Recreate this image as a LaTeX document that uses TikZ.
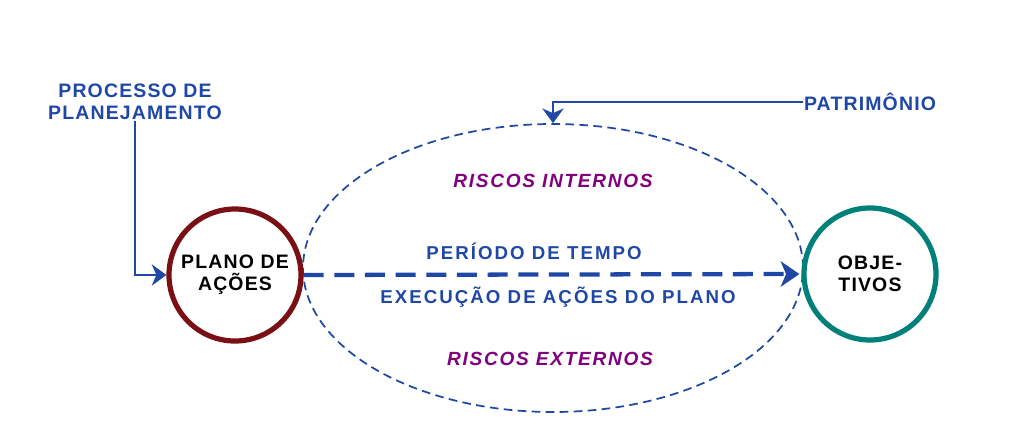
\documentclass[tikz,border=0pt]{standalone}
\usepackage{amsmath}
\usepackage{xcolor}
\usepackage{fontspec}
\setmainfont{Liberation Sans}
\newfontfamily\tagfont{Liberation Sans}[LetterSpace=6]
\newfontfamily\spanfont{Liberation Sans}[LetterSpace=11]
\newfontfamily\riskfont{Liberation Sans}[LetterSpace=9]
\usepackage{tikz}
\usetikzlibrary{arrows.meta,shapes.geometric,shadows}

\begin{document}
\begin{tikzpicture}[x=0.75pt,y=0.75pt,yscale=-1,xscale=1,
  tag/.style={inner sep=0.75pt, align=center, font=\tagfont\fontsize{14.6}{16.5}\selectfont\bfseries, color={rgb, 255:red, 31; green, 71; blue, 166}},
  span/.style={inner sep=0.75pt, anchor=base, font=\spanfont\fontsize{14}{16}\selectfont\bfseries, color={rgb, 255:red, 31; green, 71; blue, 166}},
  risk/.style={inner sep=0.75pt, anchor=base, font=\riskfont\fontsize{14.3}{16}\selectfont\bfseries\itshape, color={rgb, 255:red, 128; green, 0; blue, 128}},
  stage/.style={circle, minimum size=99pt, inner sep=0pt, line width=3.9pt, fill=white, align=center, font=\tagfont\fontsize{14.6}{16.5}\selectfont\bfseries, text=black, drop shadow={opacity=0.25, shadow xshift=1.5pt, shadow yshift=-1.5pt}},
  zone/.style={ellipse, minimum width=375pt, minimum height=216pt, inner sep=0pt, line width=1.3pt, dash pattern=on 6.5pt off 4pt, draw={rgb, 255:red, 31; green, 71; blue, 166}},
  feed/.style={line width=1.5pt, color={rgb, 255:red, 31; green, 71; blue, 166}, -{Stealth[length=11pt,width=16pt,inset=3.5pt]}},
  flow/.style={line width=3.2pt, dash pattern=on 15pt off 8pt, color={rgb, 255:red, 31; green, 71; blue, 166}, shorten >=1.5pt, -{Stealth[length=14pt,width=19pt,inset=4pt]}}
]
%set diagram size
\path (0,0) rectangle (1024,440);

%Shape: Ellipse
\draw (553,268) node [zone] (zone) {};

%Shape: Circle
\draw (235,275) node [stage, draw={rgb, 255:red, 122; green, 16; blue, 20}] (plano) {PLANO DE\\AÇÕES};
%Shape: Circle
\draw (870,274) node [stage, draw={rgb, 255:red, 0; green, 128; blue, 122}] (obj) {OBJE-\\TIVOS};

% Text Node
\draw (135,102) node [tag] (proc) {PROCESSO DE\\PLANEJAMENTO};
% Text Node
\draw (870,102) node [tag] (patr) {PATRIMÔNIO};
% Text Node
\draw (553,187) node [risk] (intern) {RISCOS INTERNOS};
% Text Node
\draw (534,259) node [span] (periodo) {PERÍODO DE TEMPO};
% Text Node
\draw (558,303) node [span] (exec) {EXECUÇÃO DE AÇÕES DO PLANO};
% Text Node
\draw (550,365) node [risk] (extern) {RISCOS EXTERNOS};

%Straight Lines
\draw [feed] (proc.south) |- (plano.west);
%Straight Lines
\draw [feed] (patr.west) -| (zone.north);
%Straight Lines
\draw [flow] (plano.east) -- (obj.west);
\end{tikzpicture}
\end{document}
